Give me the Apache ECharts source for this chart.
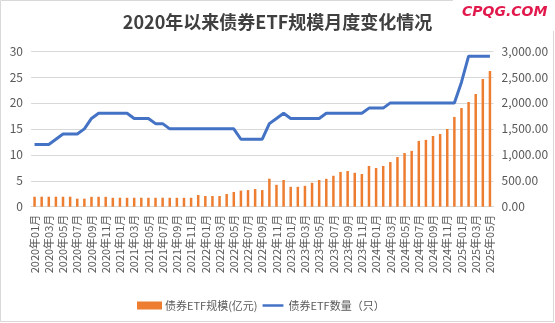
<!DOCTYPE html>
<html><head><meta charset="utf-8">
<script src="https://cdn.jsdelivr.net/npm/echarts@6/dist/echarts.min.js"></script>
<style>html,body{margin:0;padding:0;background:#fff;}#c{width:555px;height:323px;}</style>
</head><body><div id="c"></div>
<script>
const months = [];
for (let y = 2020; y <= 2025; y++) {
  for (let m = 1; m <= 12; m++) {
    if (y === 2025 && m > 5) break;
    months.push(y + '年' + (m < 10 ? '0' + m : m) + '月');
  }
}
const scaleValues = [192,193,192,193,192,193,155,155,190,191,190,172,
  173,172,173,172,172,172,173,172,172,172,172,226,206,206,206,245,284,310,320,340,
  320,540,422,515,383,383,402,460,515,537,596,670,688,653,630,
  785,746,785,860,957,1034,1076,1268,1288,1362,1400,1497,1730,1901,2017,2171,2460,2614];
const countValues = [12,12,12,13,14,14,14,15,17,18,18,18,
  18,18,17,17,17,16,16,15,15,15,15,15,15,15,15,15,15,13,13,13,
  13,16,17,18,17,17,17,17,17,18,18,18,18,18,18,
  19,19,19,20,20,20,20,20,20,20,20,20,20,24,29,29,29,29];
const leftTicks = [0, 30, 5];
const rightTicks = [0, 3000, 500];

const FONT = '"Noto Sans CJK SC", "Noto Sans", sans-serif';
const chart = echarts.init(document.getElementById('c'), null, {renderer: 'canvas'});
chart.setOption({
  animation: false,
  backgroundColor: '#fff',
  textStyle: {fontFamily: FONT},
  title: {
    text: '2020年以来债券ETF规模月度变化情况',
    left: 'center', top: 8,
    textStyle: {fontSize: 18, fontWeight: 'bold', color: '#404040', fontFamily: FONT}
  },
  graphic: [
    {type: 'rect', shape: {x: 0.5, y: 0.5, width: 553, height: 321}, style: {fill: 'none', stroke: '#d9d9d9', lineWidth: 1}, z: 0},
    {type: 'rect', shape: {x: 453, y: 0, width: 102, height: 31}, style: {fill: '#fff'}, z: 1},
    {type: 'text', left: 462, top: 5, style: {text: 'CPQG.COM', font: 'italic bold 14px "DejaVu Sans"', fill: '#e2194c'}, z: 2}
  ],
  legend: {
    left: 132, top: 295,
    itemWidth: 25, itemHeight: 8, itemGap: 5,
    textStyle: {fontSize: 11, color: '#595959', fontFamily: FONT, padding: [0, 0, 0, -2]},
    data: [
      {name: '债券ETF规模(亿元)', icon: 'rect'},
      {name: '债券ETF数量（只）', icon: 'path://M0,0 M0,3.3 L25,3.3 L25,6.3 L0,6.3 Z M25,9.6',
        itemStyle: {color: '#4472C4', borderWidth: 0}}
    ]
  },
  grid: {left: 31, right: 61.5, top: 51, bottom: 116.3, containLabel: false},
  xAxis: {
    type: 'category', data: months, boundaryGap: true,
    axisLine: {lineStyle: {color: '#d9d9d9'}},
    axisTick: {show: false},
    axisLabel: {interval: 1, rotate: 90, fontSize: 11, color: '#595959', margin: 8, fontFamily: FONT}
  },
  yAxis: [
    {type: 'value', min: leftTicks[0], max: leftTicks[1], interval: leftTicks[2],
      axisLine: {show: false}, axisTick: {show: false},
      splitLine: {lineStyle: {color: '#d9d9d9'}},
      axisLabel: {fontSize: 12, color: '#595959', margin: 8, fontFamily: FONT}},
    {type: 'value', min: rightTicks[0], max: rightTicks[1], interval: rightTicks[2],
      axisLine: {show: false}, axisTick: {show: false},
      splitLine: {show: false},
      axisLabel: {fontSize: 12, color: '#595959', margin: 8, fontFamily: FONT,
        formatter: v => v.toLocaleString('en-US', {minimumFractionDigits: 2, maximumFractionDigits: 2})}}
  ],
  series: [
    {name: '债券ETF规模(亿元)', type: 'bar', yAxisIndex: 1, data: scaleValues,
      barWidth: 2.5, itemStyle: {color: '#ED7D31'}, z: 2},
    {name: '债券ETF数量（只）', type: 'line', yAxisIndex: 0, data: countValues,
      symbol: 'none', lineStyle: {color: '#4472C4', width: 3}, itemStyle: {color: '#4472C4'}, z: 3}
  ]
});
</script></body></html>
